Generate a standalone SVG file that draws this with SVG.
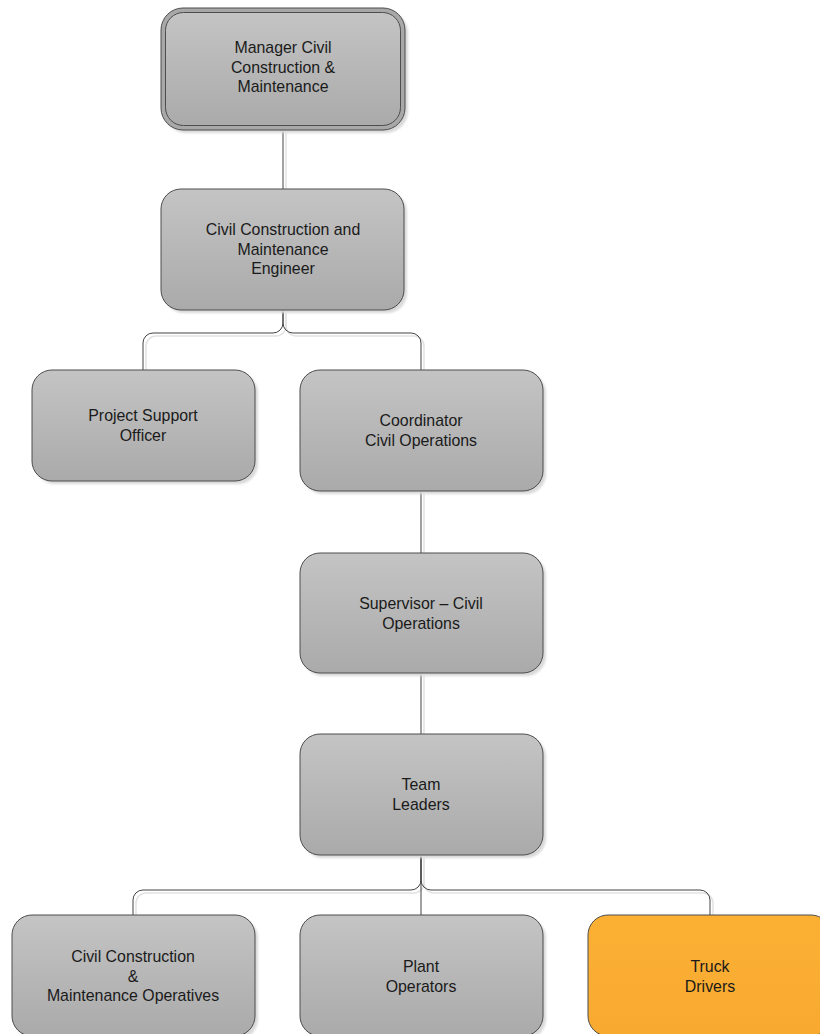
<svg xmlns="http://www.w3.org/2000/svg" width="820" height="1034" viewBox="0 0 820 1034">
<defs>
<linearGradient id="g" x1="0" y1="0" x2="0" y2="1">
<stop offset="0" stop-color="#c4c4c4"/>
<stop offset="1" stop-color="#aaaaaa"/>
</linearGradient>
<linearGradient id="go" x1="0" y1="0" x2="0" y2="1">
<stop offset="0" stop-color="#fbb034"/>
<stop offset="1" stop-color="#f8aa30"/>
</linearGradient>
<filter id="blur" x="-10%" y="-10%" width="120%" height="120%"><feGaussianBlur stdDeviation="1"/></filter>
</defs>
<style>
.box{fill:url(#g);stroke:#4d4d4d;stroke-width:1}
.orange{fill:url(#go);stroke:#4d4d4d;stroke-width:1}
.sh{fill:#d9d9d9;filter:url(#blur)}
.t{font-family:"Liberation Sans",Arial,sans-serif;font-size:15.9px;fill:#1a1a1a;text-anchor:middle}
.c{fill:none;stroke:#444;stroke-width:1}
.cs{fill:none;stroke:#e2e2e2;stroke-width:1.5}
</style>
<rect width="820" height="1034" fill="#fff"/>
<g id="connectors">
<g transform="translate(3,3)">
<path class="cs" d="M283,130V189"/>
<path class="cs" d="M283,310V323A10,10 0 0 1 273,333H153A10,10 0 0 0 143,343V370"/>
<path class="cs" d="M283,310V323A10,10 0 0 0 293,333H411A10,10 0 0 1 421,343V370"/>
<path class="cs" d="M421,491V553"/>
<path class="cs" d="M421,673V734"/>
<path class="cs" d="M421,855V880A10,10 0 0 1 411,890H143A10,10 0 0 0 133,900V915"/>
<path class="cs" d="M421,855V880A10,10 0 0 0 431,890H700A10,10 0 0 1 710,900V915"/>
</g>
<path class="c" d="M283,130V189"/>
<path class="c" d="M283,310V323A10,10 0 0 1 273,333H153A10,10 0 0 0 143,343V370"/>
<path class="c" d="M283,310V323A10,10 0 0 0 293,333H411A10,10 0 0 1 421,343V370"/>
<path class="c" d="M421,491V553"/>
<path class="c" d="M421,673V734"/>
<path class="c" d="M421,855V915"/>
<path class="c" d="M421,855V880A10,10 0 0 1 411,890H143A10,10 0 0 0 133,900V915"/>
<path class="c" d="M421,855V880A10,10 0 0 0 431,890H700A10,10 0 0 1 710,900V915"/>
</g>
<g id="manager">
<rect class="sh" x="164" y="11" width="244" height="122" rx="22"/>
<rect x="161" y="8" width="244" height="122" rx="22" fill="#a8a8a8" stroke="#4d4d4d"/>
<rect class="box" x="165.5" y="12.5" width="235" height="113" rx="18"/>
<text class="t" x="283" y="53">Manager Civil</text>
<text class="t" x="283" y="72.5">Construction &amp;</text>
<text class="t" x="283" y="92">Maintenance</text>
</g>
<g id="engineer">
<rect class="sh" x="164" y="192" width="243" height="121" rx="20"/>
<rect class="box" x="161" y="189" width="243" height="121" rx="20"/>
<text class="t" x="283" y="235">Civil Construction and</text>
<text class="t" x="283" y="254.5">Maintenance</text>
<text class="t" x="283" y="274">Engineer</text>
</g>
<g id="pso">
<rect class="sh" x="35" y="373" width="223" height="111" rx="20"/>
<rect class="box" x="32" y="370" width="223" height="111" rx="20"/>
<text class="t" x="143" y="421">Project Support</text>
<text class="t" x="143" y="440.5">Officer</text>
</g>
<g id="coordinator">
<rect class="sh" x="303" y="373" width="243" height="121" rx="20"/>
<rect class="box" x="300" y="370" width="243" height="121" rx="20"/>
<text class="t" x="421" y="426">Coordinator</text>
<text class="t" x="421" y="445.5">Civil Operations</text>
</g>
<g id="supervisor">
<rect class="sh" x="303" y="556" width="243" height="120" rx="20"/>
<rect class="box" x="300" y="553" width="243" height="120" rx="20"/>
<text class="t" x="421" y="609">Supervisor – Civil</text>
<text class="t" x="421" y="628.5">Operations</text>
</g>
<g id="team">
<rect class="sh" x="303" y="737" width="243" height="121" rx="20"/>
<rect class="box" x="300" y="734" width="243" height="121" rx="20"/>
<text class="t" x="421" y="790">Team</text>
<text class="t" x="421" y="809.5">Leaders</text>
</g>
<g id="operatives">
<rect class="sh" x="15" y="918" width="243" height="121" rx="20"/>
<rect class="box" x="12" y="915" width="243" height="121" rx="20"/>
<text class="t" x="133" y="962">Civil Construction</text>
<text class="t" x="133" y="981.5">&amp;</text>
<text class="t" x="133" y="1001">Maintenance Operatives</text>
</g>
<g id="plant">
<rect class="sh" x="303" y="918" width="243" height="121" rx="20"/>
<rect class="box" x="300" y="915" width="243" height="121" rx="20"/>
<text class="t" x="421" y="972">Plant</text>
<text class="t" x="421" y="991.5">Operators</text>
</g>
<g id="truck">
<rect class="orange" x="588" y="915" width="243" height="121" rx="20"/>
<text class="t" x="710" y="972">Truck</text>
<text class="t" x="710" y="991.5">Drivers</text>
</g>
</svg>
